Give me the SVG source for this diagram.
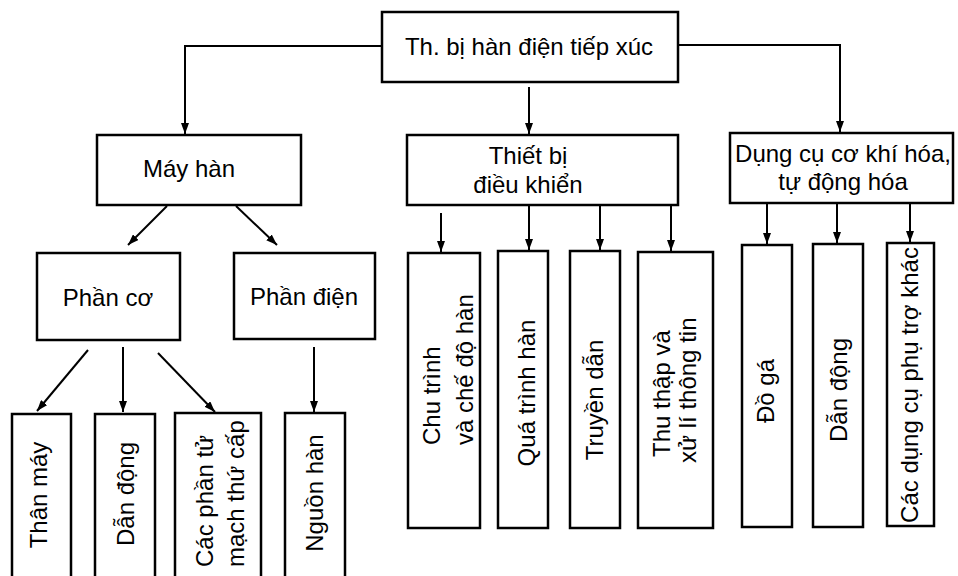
<svg xmlns="http://www.w3.org/2000/svg" width="958" height="576" viewBox="0 0 958 576">
<style>
.box{fill:#fff;stroke:#000;stroke-width:2.5}
.t{font-family:"Liberation Sans",Arial,sans-serif;font-size:24px;fill:#000}
.m{text-anchor:middle}
.c{fill:none;stroke:#000;stroke-width:2}
</style>
<defs>
<marker id="ah" markerUnits="userSpaceOnUse" markerWidth="12" markerHeight="8" refX="11" refY="4" orient="auto">
<path d="M0,0 L11,4 L0,8 z" fill="#000"/>
</marker>
</defs>
<rect width="958" height="576" fill="#fff"/>
<g id="connectors">
<path class="c" d="M382,46 H185 V134" marker-end="url(#ah)"/>
<path class="c" d="M529,87 V134" marker-end="url(#ah)"/>
<path class="c" d="M678,45 H840 V132" marker-end="url(#ah)"/>
<path class="c" d="M167,206 L128,245" marker-end="url(#ah)"/>
<path class="c" d="M236,206 L277,245" marker-end="url(#ah)"/>
<path class="c" d="M88,350 L37,411" marker-end="url(#ah)"/>
<path class="c" d="M123,347 V412" marker-end="url(#ah)"/>
<path class="c" d="M158,353 L215,412" marker-end="url(#ah)"/>
<path class="c" d="M314,347 V412" marker-end="url(#ah)"/>
<path class="c" d="M441,213 V252" marker-end="url(#ah)"/>
<path class="c" d="M529,205 V250" marker-end="url(#ah)"/>
<path class="c" d="M600,205 V250" marker-end="url(#ah)"/>
<path class="c" d="M671,205 V251" marker-end="url(#ah)"/>
<path class="c" d="M767,203 V244" marker-end="url(#ah)"/>
<path class="c" d="M837,203 V243" marker-end="url(#ah)"/>
<path class="c" d="M910,203 V242" marker-end="url(#ah)"/>
</g>
<g id="root">
<rect class="box" x="382" y="12" width="296" height="70"/>
<text class="t m" x="529" y="55">Th. bị hàn điện tiếp xúc</text>
</g>
<g id="may-han">
<rect class="box" x="97" y="135" width="204" height="70"/>
<text class="t m" x="189" y="177">Máy hàn</text>
</g>
<g id="thiet-bi">
<rect class="box" x="407" y="135" width="271" height="70"/>
<text class="t m" x="528" y="164">Thiết bị</text>
<text class="t m" x="528" y="193">điều khiển</text>
</g>
<g id="dung-cu">
<rect class="box" x="730" y="133" width="223" height="70"/>
<text class="t m" x="843" y="162">Dụng cụ cơ khí hóa,</text>
<text class="t m" x="843" y="190">tự động hóa</text>
</g>
<g id="phan-co">
<rect class="box" x="37" y="253" width="143" height="87"/>
<text class="t m" x="108" y="306">Phần cơ</text>
</g>
<g id="phan-dien">
<rect class="box" x="234" y="253" width="141" height="86"/>
<text class="t m" x="304" y="305">Phần điện</text>
</g>
<g id="than-may">
<rect class="box" x="12" y="414" width="59" height="180"/>
<text class="t m" transform="translate(47,495) rotate(-90)">Thân máy</text>
</g>
<g id="dan-dong-1">
<rect class="box" x="95" y="414" width="60" height="180"/>
<text class="t m" transform="translate(134,494) rotate(-90)">Dẫn động</text>
</g>
<g id="cac-phan-tu">
<rect class="box" x="175" y="413" width="86" height="180"/>
<text class="t" transform="translate(213,567) rotate(-90)">Các phần tử</text>
<text class="t" transform="translate(244,567) rotate(-90)">mạch thứ cấp</text>
</g>
<g id="nguon-han">
<rect class="box" x="285" y="413" width="60" height="180"/>
<text class="t m" transform="translate(323,493) rotate(-90)">Nguồn hàn</text>
</g>
<g id="chu-trinh">
<rect class="box" x="408" y="253" width="72" height="275"/>
<text class="t" transform="translate(440,445) rotate(-90)">Chu trình</text>
<text class="t" transform="translate(473,445) rotate(-90)">và chế độ hàn</text>
</g>
<g id="qua-trinh">
<rect class="box" x="498" y="251" width="50" height="277"/>
<text class="t m" transform="translate(535,393) rotate(-90)">Quá trình hàn</text>
</g>
<g id="truyen-dan">
<rect class="box" x="570" y="251" width="50" height="277"/>
<text class="t m" transform="translate(603,400) rotate(-90)">Truyền dẫn</text>
</g>
<g id="thu-thap">
<rect class="box" x="638" y="252" width="75" height="276"/>
<text class="t" transform="translate(670,457) rotate(-90)">Thu thập và</text>
<text class="t" transform="translate(696,463) rotate(-90)">xử lí thông tin</text>
</g>
<g id="do-ga">
<rect class="box" x="742" y="245" width="50" height="282"/>
<text class="t m" transform="translate(774,391) rotate(-90)">Đồ gá</text>
</g>
<g id="dan-dong-2">
<rect class="box" x="813" y="244" width="50" height="283"/>
<text class="t m" transform="translate(847,390) rotate(-90)">Dẫn động</text>
</g>
<g id="cac-dung-cu">
<rect class="box" x="887" y="243" width="47" height="283"/>
<text class="t m" transform="translate(918,385) rotate(-90)">Các dụng cụ phụ trợ khác</text>
</g>
</svg>
